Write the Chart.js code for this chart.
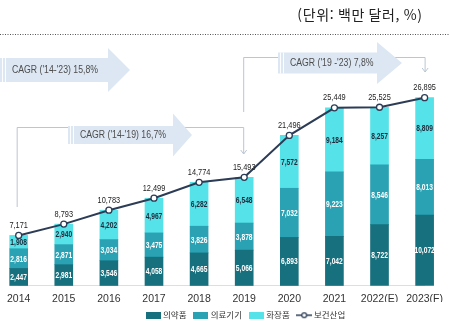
<!DOCTYPE html>
<html lang="ko">
<head>
<meta charset="utf-8">
<title>보건산업 수출</title>
<script src="https://cdn.jsdelivr.net/npm/chart.js@4"></script>
<style>
  html, body { margin: 0; padding: 0; background: #fff; }
  #grafico { display: block; }
</style>
</head>
<body>
<canvas id="grafico" width="450" height="326"></canvas>
<script>
// ---- 데이터 (단위: 백만 달러)
const anos = ['2014', '2015', '2016', '2017', '2018', '2019', '2020', '2021', '2022(E)', '2023(F)'];
const 의약품 = [2447, 2981, 3546, 4058, 4665, 5066, 6893, 7042, 8722, 10072];
const 의료기기 = [2816, 2871, 3034, 3475, 3826, 3878, 7032, 9223, 8546, 8013];
const 화장품 = [1908, 2940, 4202, 4967, 6282, 6548, 7572, 9184, 8257, 8809];
const 보건산업 = [7171, 8793, 10783, 12499, 14774, 15493, 21496, 25449, 25525, 26895];

const unidade = '(단위: 백만 달러, %)';
const cagrTextos = ["CAGR ('14-'23) 15,8%", "CAGR ('14-'19) 16,7%", "CAGR ('19 -'23) 7,8%"];

// ---- cores
const corEscura = '#17707d';
const corMedia = '#2aa2b3';
const corClara = '#55e2e8';
const corLinha = '#2c3c56';
const fonteBase = "'Liberation Sans', sans-serif";

// texto estreitado na horizontal (fonte condensada)
function textoCondensado(g, texto, x, y, escala) {
    g.save();
    g.translate(x, y);
    g.scale(escala, 1);
    g.fillText(texto, 0, 0);
    g.restore();
}

// ícones da legenda (caixa para barras, linha com círculo para o total)
function iconeCaixa(cor) {
    const c = document.createElement('canvas');
    c.width = 15; c.height = 7;
    const g = c.getContext('2d');
    g.fillStyle = cor;
    g.fillRect(0, 0, 15, 7);
    return c;
}
function iconeLinha() {
    const c = document.createElement('canvas');
    c.width = 16; c.height = 8;
    const g = c.getContext('2d');
    g.strokeStyle = corLinha;
    g.lineWidth = 1.5;
    g.beginPath(); g.moveTo(0, 4); g.lineTo(16, 4); g.stroke();
    g.fillStyle = '#fff';
    g.lineWidth = 1.2;
    g.beginPath(); g.arc(8, 4, 2.4, 0, Math.PI * 2); g.fill(); g.stroke();
    return c;
}
const iconesLegenda = [iconeCaixa(corEscura), iconeCaixa(corMedia), iconeCaixa(corClara), iconeLinha()];

// seta larga de CAGR
function desenharSeta(g, x0, xCabeca, xPonta, cy, meioCorpo, meiaCabeca, texto) {
    g.save();
    g.fillStyle = '#dce7f3';
    g.beginPath();
    g.moveTo(x0, cy - meioCorpo);
    g.lineTo(xCabeca, cy - meioCorpo);
    g.lineTo(xCabeca, cy - meiaCabeca);
    g.lineTo(xPonta, cy);
    g.lineTo(xCabeca, cy + meiaCabeca);
    g.lineTo(xCabeca, cy + meioCorpo);
    g.lineTo(x0, cy + meioCorpo);
    g.closePath();
    g.fill();
    // listras brancas no início
    g.strokeStyle = 'rgba(255,255,255,0.9)';
    g.lineWidth = 1;
    [2.5, 5.5].forEach(d => {
        g.beginPath(); g.moveTo(x0 + d, cy - meioCorpo); g.lineTo(x0 + d, cy + meioCorpo); g.stroke();
    });
    g.fillStyle = '#4d4d4d';
    g.font = "10px " + fonteBase;
    g.textAlign = 'left';
    g.textBaseline = 'middle';
    textoCondensado(g, texto, x0 + 12, cy + 0.5, 0.87);
    g.restore();
}

// colchete com seta para baixo
function desenharColchete(g, xa, ya, yTopo, xb, yb) {
    g.save();
    g.strokeStyle = '#b9c6d3';
    g.lineWidth = 1;
    g.beginPath();
    g.moveTo(xa, ya); g.lineTo(xa, yTopo); g.lineTo(xb, yTopo); g.lineTo(xb, yb);
    g.stroke();
    g.beginPath();
    g.moveTo(xb - 3, yb - 4); g.lineTo(xb, yb); g.lineTo(xb + 3, yb - 4);
    g.stroke();
    g.restore();
}

const decoracao = {
    id: 'decoracao',
    beforeDatasetsDraw(chart) {
        const g = chart.ctx;
        const x = chart.scales.x;

        // unidade e linha pontilhada
        g.save();
        g.fillStyle = '#222';
        g.font = "14px 'Noto Sans CJK KR', sans-serif";
        g.letterSpacing = '0.6px';
        g.textAlign = 'center';
        g.textBaseline = 'middle';
        g.fillText(unidade, 360, 15);
        g.letterSpacing = '0px';
        g.strokeStyle = '#555';
        g.setLineDash([1, 1.5]);
        g.lineWidth = 1;
        g.beginPath(); g.moveTo(0, 34.5); g.lineTo(450, 34.5); g.stroke();
        g.restore();

        const x14 = x.getPixelForValue(0);
        const x19 = x.getPixelForValue(5);
        const x23 = x.getPixelForValue(9);
        desenharColchete(g, x14 - 1.5, 207, 127.5, x19 - 0.5, 154);
        desenharColchete(g, x19 - 0.5, 112, 57.5, x23 + 0.5, 72);

        desenharSeta(g, 0, 108, 130, 70, 12, 22, cagrTextos[0]);
        desenharSeta(g, 68, 173, 192, 135, 9, 21.5, cagrTextos[1]);
        desenharSeta(g, 278, 377, 402, 63, 10.5, 21, cagrTextos[2]);
    },
    afterDatasetsDraw(chart) {
        const g = chart.ctx;
        g.save();
        g.textAlign = 'center';
        g.textBaseline = 'middle';
        const coresTexto = ['#ffffff', '#ffffff', '#1d2b3c'];
        chart.data.datasets.forEach((ds, i) => {
            const meta = chart.getDatasetMeta(i);
            meta.data.forEach((el, j) => {
                const valor = ds.data[j].toLocaleString('en-US');
                if (ds.type === 'line') {
                    g.font = "9px " + fonteBase;
                    g.fillStyle = '#222';
                    textoCondensado(g, valor, el.x, el.y - 10, 0.82);
                } else {
                    g.font = "bold 9px " + fonteBase;
                    g.fillStyle = coresTexto[i];
                    textoCondensado(g, valor, el.x, (el.y + el.base) / 2 + 0.5, 0.74);
                }
            });
        });
        g.restore();
    },
    afterLayout(chart) {
        // legenda um pouco deslocada para a direita
        chart.legend.left += 22;
        chart.legend.right += 22;
    }
};

const ctx = document.getElementById('grafico').getContext('2d');

let grafico = new Chart(ctx, {
    data: {
        labels: anos,
        datasets: [
            { type: 'bar', label: '의약품', data: 의약품, backgroundColor: corEscura, stack: 'barras', order: 1, barThickness: 18, clip: false },
            { type: 'bar', label: '의료기기', data: 의료기기, backgroundColor: corMedia, stack: 'barras', order: 1, barThickness: 18, clip: false },
            { type: 'bar', label: '화장품', data: 화장품, backgroundColor: corClara, stack: 'barras', order: 1, barThickness: 18, clip: false },
            {
                type: 'line', label: '보건산업', data: 보건산업, stack: 'total', order: 0, clip: false,
                borderColor: corLinha, borderWidth: 2, tension: 0,
                pointRadius: 3, pointBackgroundColor: '#fff', pointBorderColor: corLinha, pointBorderWidth: 1.3
            }
        ]
    },
    options: {
        responsive: false,
        animation: false,
        layout: { padding: { top: 76, left: 16, right: 17, bottom: -3.5 } },
        scales: {
            x: {
                stacked: true,
                offset: false,
                grid: { display: false, drawTicks: false },
                border: { display: true, color: '#dedede' },
                ticks: { color: '#333', font: { size: 10.5, family: fonteBase }, padding: 7, autoSkip: false, maxRotation: 0 },
                // altura fixa do eixo x
                afterFit: (escala) => { escala.height = 16.5; }
            },
            y: {
                stacked: true,
                display: false,
                min: 0,
                max: 30000
            }
        },
        plugins: {
            tooltip: { enabled: false },
            legend: {
                position: 'bottom',
                labels: {
                    usePointStyle: true,
                    pointStyleWidth: 11,
                    color: '#333',
                    padding: 9,
                    font: { size: 8.5, family: "'Noto Sans CJK KR', sans-serif" },
                    sort: (a, b) => a.datasetIndex - b.datasetIndex,
                    generateLabels(chart) {
                        const itens = Chart.defaults.plugins.legend.labels.generateLabels(chart);
                        itens.forEach(it => { it.pointStyle = iconesLegenda[it.datasetIndex]; });
                        return itens;
                    }
                }
            }
        }
    },
    plugins: [decoracao]
});
</script>
</body>
</html>
